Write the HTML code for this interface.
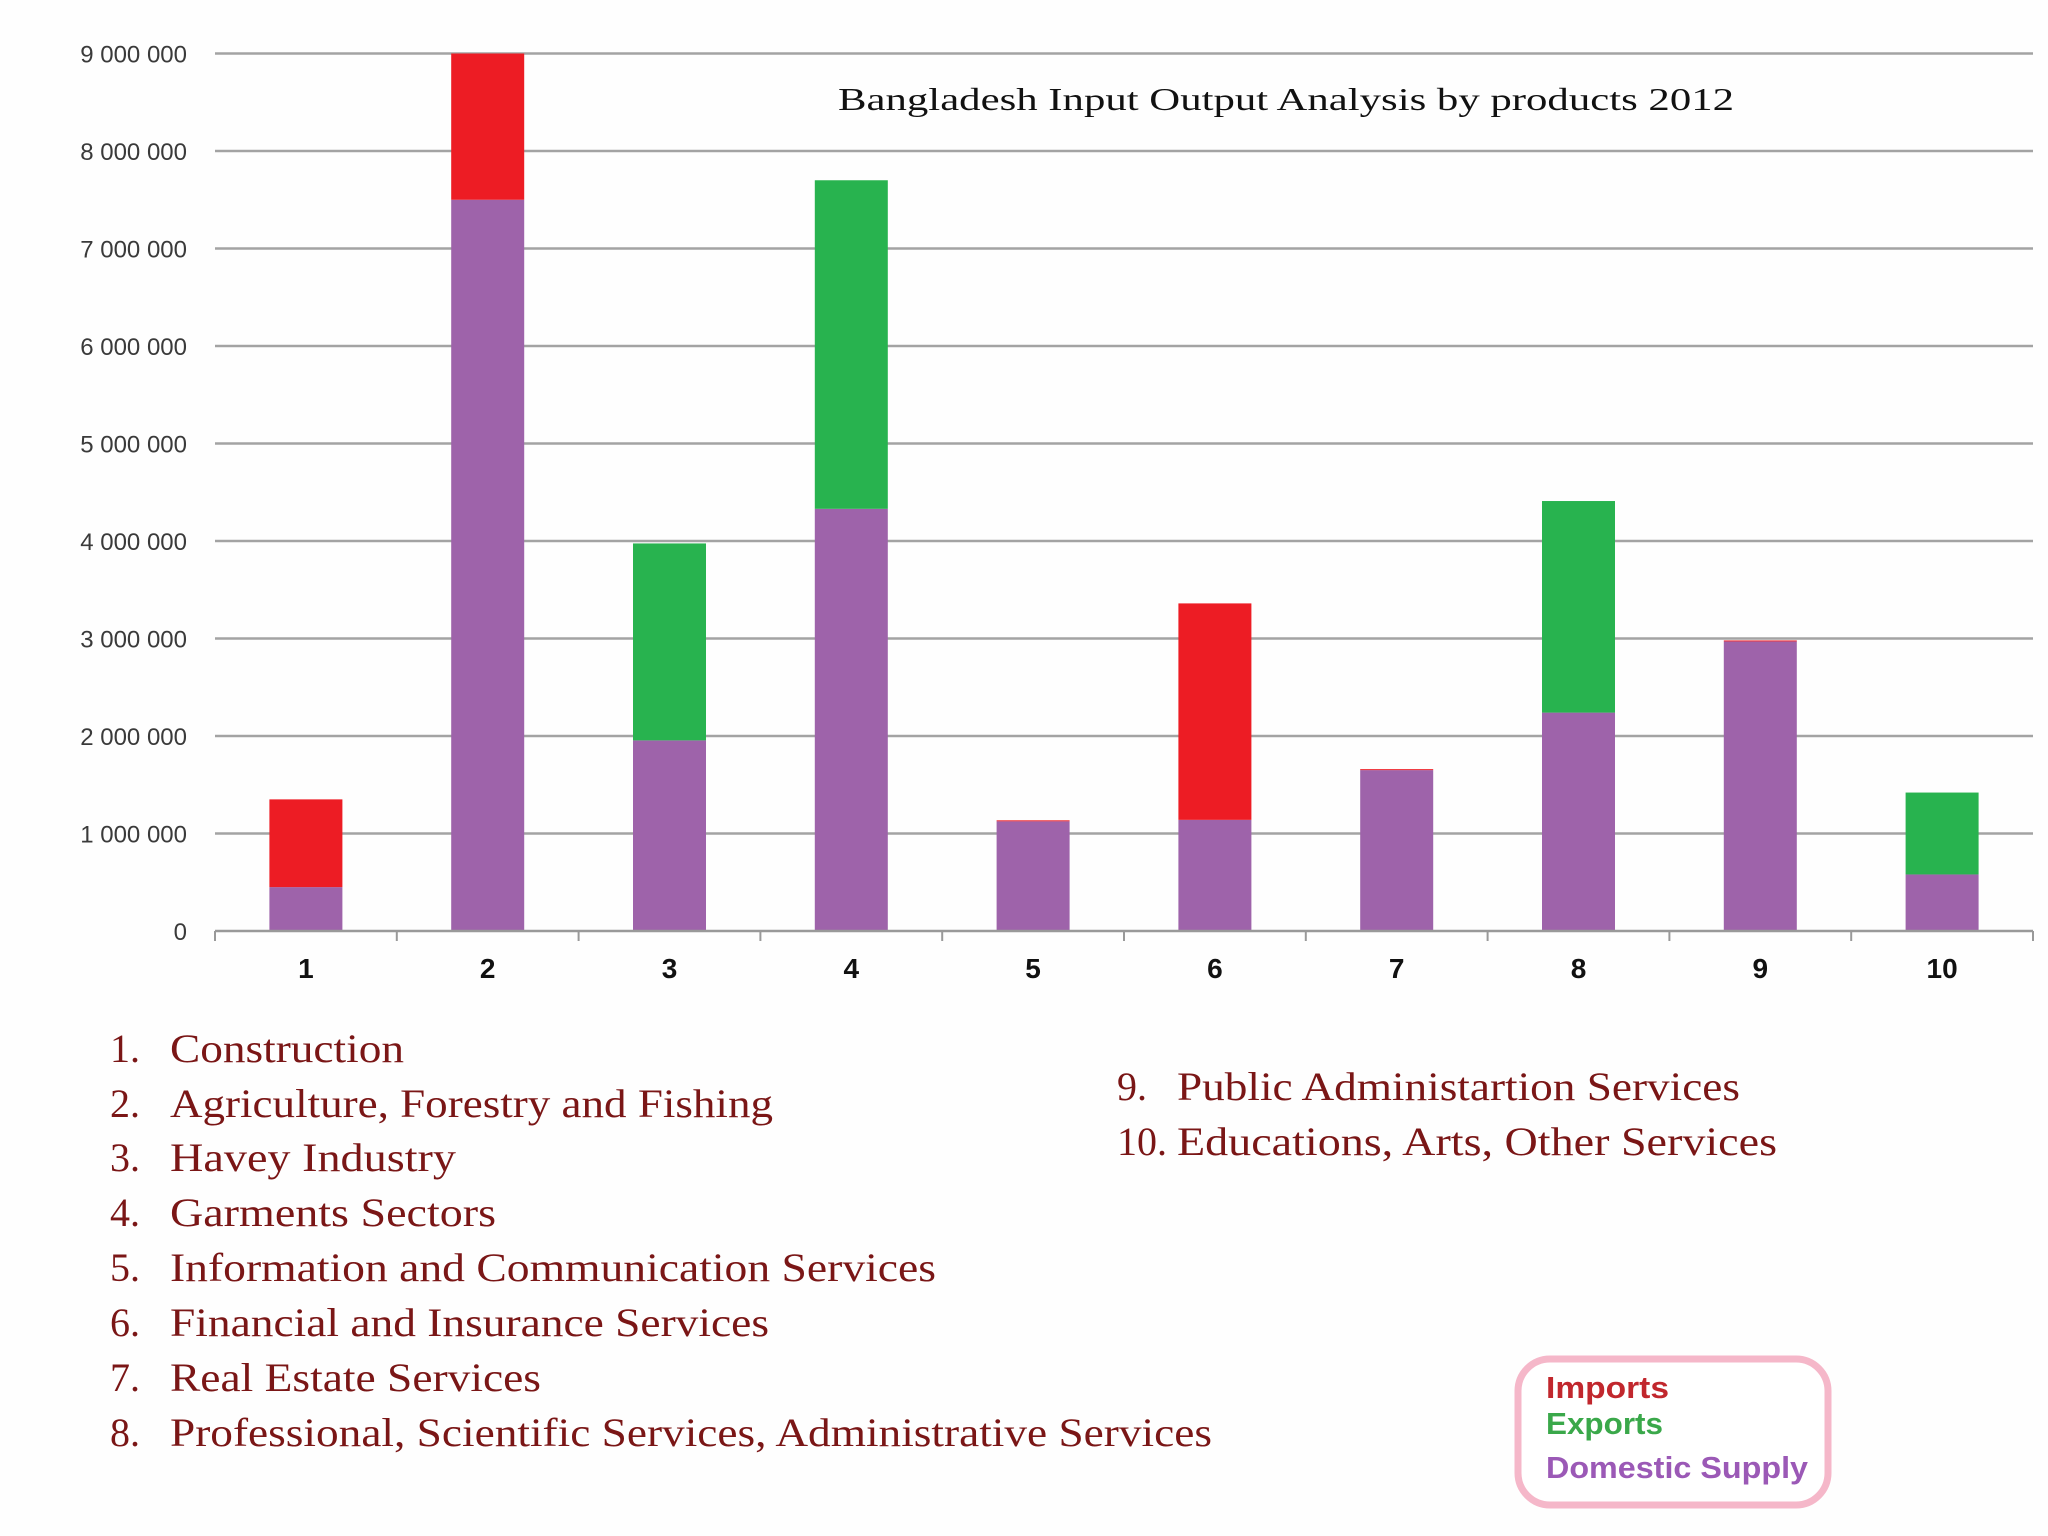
<!DOCTYPE html>
<html><head><meta charset="utf-8"><style>
html,body{margin:0;padding:0;background:#fff}
svg{display:block}
</style></head><body>
<svg id="chart" width="2048" height="1536" viewBox="0 0 2048 1536" xmlns="http://www.w3.org/2000/svg">
<rect width="2048" height="1536" fill="#fefefe"/>
<g id="grid"></g><g id="bars"></g><g id="axes"></g>
<text x="838" y="110" font-family="Liberation Serif, serif" font-size="32" fill="#111" textLength="896" lengthAdjust="spacingAndGlyphs">Bangladesh Input Output Analysis by products 2012</text>
<g font-family="Liberation Serif, serif" font-size="40" fill="#7a1616">
<text x="110" y="1062">1.</text><text x="170" y="1062" textLength="234" lengthAdjust="spacingAndGlyphs">Construction</text>
<text x="110" y="1117">2.</text><text x="170" y="1117" textLength="603" lengthAdjust="spacingAndGlyphs">Agriculture, Forestry and Fishing</text>
<text x="110" y="1171">3.</text><text x="170" y="1171" textLength="286" lengthAdjust="spacingAndGlyphs">Havey Industry</text>
<text x="110" y="1226">4.</text><text x="170" y="1226" textLength="326" lengthAdjust="spacingAndGlyphs">Garments Sectors</text>
<text x="110" y="1281">5.</text><text x="170" y="1281" textLength="766" lengthAdjust="spacingAndGlyphs">Information and Communication Services</text>
<text x="110" y="1336">6.</text><text x="170" y="1336" textLength="599" lengthAdjust="spacingAndGlyphs">Financial and Insurance Services</text>
<text x="110" y="1391">7.</text><text x="170" y="1391" textLength="371" lengthAdjust="spacingAndGlyphs">Real Estate Services</text>
<text x="110" y="1446">8.</text><text x="170" y="1446" textLength="1042" lengthAdjust="spacingAndGlyphs">Professional, Scientific Services, Administrative Services</text>
<text x="1117" y="1100">9.</text><text x="1177" y="1100" textLength="563" lengthAdjust="spacingAndGlyphs">Public Administartion Services</text>
<text x="1117" y="1155">10.</text><text x="1177" y="1155" textLength="600" lengthAdjust="spacingAndGlyphs">Educations, Arts, Other Services</text>
</g>
<g>
<rect x="1518" y="1359" width="310" height="146" rx="32" fill="#fff" stroke="#f5b7c9" stroke-width="7"/>
<text x="1546" y="1398" font-family="Liberation Sans, sans-serif" font-weight="bold" font-size="31" fill="#c1272d" textLength="123" lengthAdjust="spacingAndGlyphs">Imports</text>
<text x="1546" y="1434" font-family="Liberation Sans, sans-serif" font-weight="bold" font-size="31" fill="#3aa84a" textLength="117" lengthAdjust="spacingAndGlyphs">Exports</text>
<text x="1546" y="1478" font-family="Liberation Sans, sans-serif" font-weight="bold" font-size="31" fill="#9b59b6" textLength="262" lengthAdjust="spacingAndGlyphs">Domestic Supply</text>
</g>
</svg>
<script>
const categories = ["1","2","3","4","5","6","7","8","9","10"];
const domestic = [450000,7500000,1955000,4330000,1125000,1140000,1650000,2240000,2970000,580000];
const exportsV = [0,0,2020000,3370000,0,0,0,2170000,0,840000];
const importsV = [900000,1500000,0,0,10000,2220000,10000,0,10000,0];
const yTicks = [0,1000000,2000000,3000000,4000000,5000000,6000000,7000000,8000000,9000000];
const yTickLabels = ["0","1 000 000","2 000 000","3 000 000","4 000 000","5 000 000","6 000 000","7 000 000","8 000 000","9 000 000"];

const NS="http://www.w3.org/2000/svg";
const X0=215,X1=2033,Y0=931,YT=53.5,YMAX=9000000;
const y=v=>Y0-(v/YMAX)*(Y0-YT);
const bw=(X1-X0)/categories.length;
const xc=i=>X0+bw*(i+0.5);
function mk(tag,attrs,parent){const e=document.createElementNS(NS,tag);for(const k in attrs)e.setAttribute(k,attrs[k]);parent.appendChild(e);return e;}
const grid=document.getElementById('grid'),bars=document.getElementById('bars'),axes=document.getElementById('axes');
yTicks.forEach((t,i)=>{
  if(t>0){const l=mk('line',{x1:X0,x2:X1,y1:y(t),y2:y(t),stroke:'#a3a3a3','stroke-width':2.5},grid);
  
  }
  const tx=mk('text',{x:187,y:y(t)+9,'text-anchor':'end','font-family':'Liberation Sans, sans-serif','font-size':24,fill:'#3a3a3a'},axes);
  tx.textContent=yTickLabels[i];
  
  
});
const BW=73;
categories.forEach((c,i)=>{
  const segs=[[0,domestic[i],'#9e63aa','domestic'],[domestic[i],domestic[i]+exportsV[i],'#28b34f','exports'],[domestic[i]+exportsV[i],domestic[i]+exportsV[i]+importsV[i],'#ed1c24','imports']];
  segs.forEach(s=>{
    if(s[1]<=s[0])return;
    const r=mk('rect',{x:xc(i)-BW/2,y:y(s[1]),width:BW,height:y(s[0])-y(s[1]),fill:s[2]},bars);
    
    
  });
  const lb=mk('text',{x:xc(i),y:978,'text-anchor':'middle','font-family':'Liberation Sans, sans-serif','font-weight':'bold','font-size':28,fill:'#111'},axes);
  lb.textContent=c;
  
  
});
const ax=mk('line',{x1:X0,x2:X1,y1:Y0,y2:Y0,stroke:'#999','stroke-width':2.5},axes);


for(let i=0;i<=categories.length;i++){
  const tk=mk('line',{x1:X0+bw*i,x2:X0+bw*i,y1:Y0,y2:Y0+10,stroke:'#999','stroke-width':2},axes);
  
  
}
</script>
</body></html>
